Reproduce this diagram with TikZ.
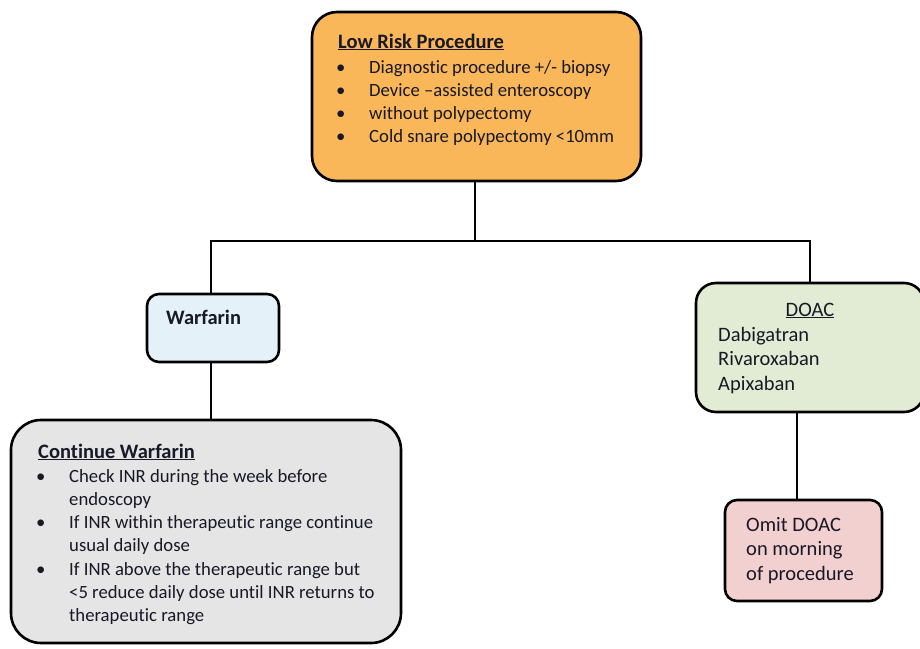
\documentclass[tikz,border=0pt]{standalone}
\usepackage{fontspec}
\setmainfont{Carlito}[Ligatures=NoCommon]
\usepackage{array}
\definecolor{inkc}{RGB}{24,24,38}
\definecolor{orangefill}{RGB}{250,183,90}
\definecolor{bluefill}{RGB}{229,241,248}
\definecolor{grayfill}{RGB}{229,229,229}
\definecolor{greenfill}{RGB}{226,236,212}
\definecolor{pinkfill}{RGB}{242,208,208}
\tikzset{
  box/.style={draw=black, line width=2.6pt, inner sep=0pt},
  conn/.style={draw=black, line width=2.6pt},
  txt/.style={anchor=base west, inner sep=0pt, text=inkc, font=\fontsize{18.7}{23.3}\selectfont},
  bigtxt/.style={txt, font=\fontsize{20.5}{24.5}\selectfont},
}
\newcommand{\bulletlist}[1]{\begin{tabular}[t]{@{}p{33pt}@{}l@{}}#1\end{tabular}}
\newcommand{\bul}{\textbullet}
\begin{document}
\begin{tikzpicture}[x=1pt,y=-1pt]
\useasboundingbox (0,0) rectangle (920,648);
\fill[white] (0,0) rectangle (920,648);

% boxes
\node[box, fill=orangefill, rounded corners=25pt, minimum width=329pt, minimum height=169pt] (low) at (476.5,96.5) {};
\node[box, fill=bluefill, rounded corners=12pt, minimum width=132pt, minimum height=68pt] (warf) at (213,328) {};
\node[box, fill=grayfill, rounded corners=30pt, minimum width=390pt, minimum height=223pt] (cont) at (206,531.5) {};
\node[box, fill=greenfill, rounded corners=20pt, minimum width=228pt, minimum height=129pt] (doac) at (810,347.5) {};
\node[box, fill=pinkfill, rounded corners=12pt, minimum width=157pt, minimum height=101pt] (omit) at (803.5,550.5) {};

% connectors
\coordinate (bar) at (475,241);
\draw[conn] ([xshift=-1.5pt]low.south) -- (bar);
\draw[conn] ([xshift=-2pt]warf.north) |- (bar) -| (doac.north);
\draw[conn] ([xshift=-2pt]warf.south) -- ([xshift=-2pt]warf.south |- cont.north);
\draw[conn] ([xshift=-6.5pt]omit.north) -- ([xshift=-6.5pt]omit.north |- doac.south);

% texts
\node[bigtxt] (lowtitle) at (338,48) {\textbf{\underline{Low Risk Procedure}}};
\node[txt] (lowlist) at (336,73) {\bulletlist{%
  \bul & Diagnostic procedure +/- biopsy\\
  \bul & Device –assisted enteroscopy\\
  \bul & without polypectomy\\
  \bul & Cold snare polypectomy <10mm}};

\node[bigtxt] (warftxt) at (166,324) {\textbf{Warfarin}};

\node[bigtxt] (conttitle) at (38,458) {\textbf{\underline{Continue Warfarin}}};
\node[txt] (contlist) at (36,482) {\bulletlist{%
  \bul & Check INR during the week before\\
       & endoscopy\\
  \bul & If INR within therapeutic range continue\\
       & usual daily dose\\
  \bul & If INR above the therapeutic range but\\
       & <5 reduce daily dose until INR returns to\\
       & therapeutic range}};

\node[bigtxt, anchor=base] (doactitle) at (810,316) {\underline{DOAC}};
\node[bigtxt] (doaclist) at (718,341) {\begin{tabular}[t]{@{}l@{}}Dabigatran\\ Rivaroxaban\\ Apixaban\end{tabular}};

\node[bigtxt] (omittxt) at (746,531) {\begin{tabular}[t]{@{}l@{}}Omit DOAC\\ on morning\\ of procedure\end{tabular}};
\end{tikzpicture}
\end{document}
